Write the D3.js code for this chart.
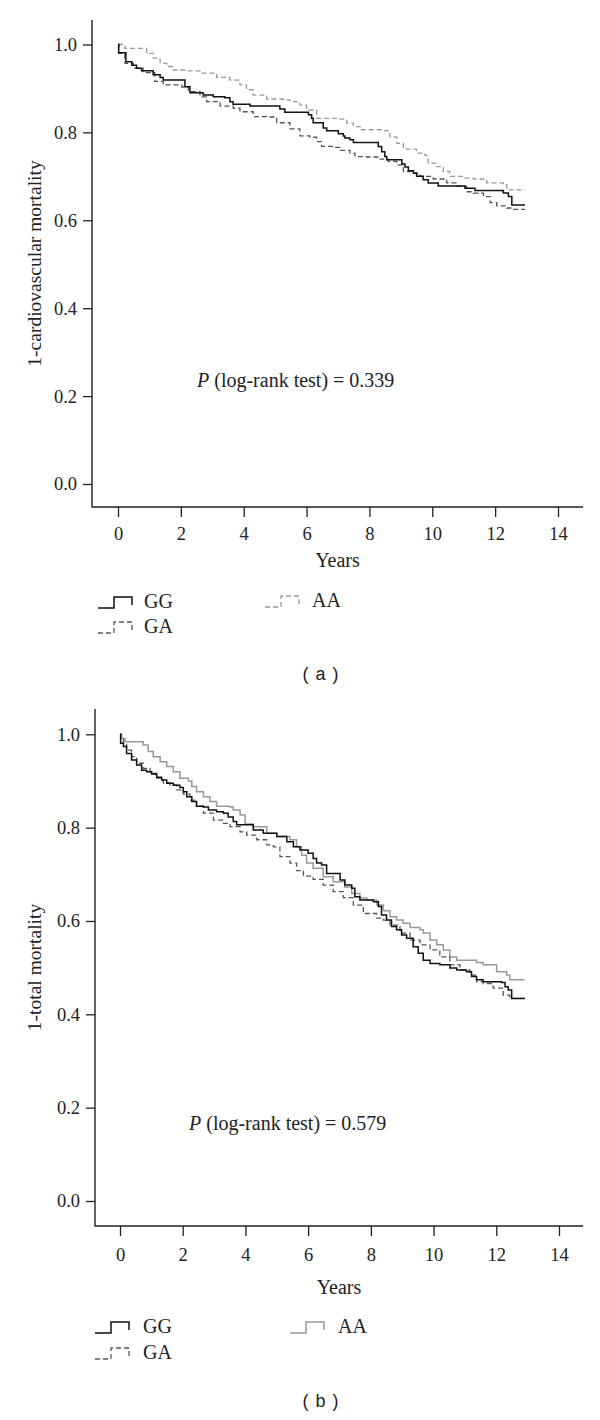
<!DOCTYPE html>
<html>
<head>
<meta charset="utf-8">
<script src="https://cdn.jsdelivr.net/npm/d3@7"></script>
<style>
  body { margin: 0; background: #fff; }
  svg { display: block; }
  .serif { font-family: "Liberation Serif", "DejaVu Serif", serif; }
</style>
</head>
<body>
<div id="chart"></div>
<script>
"use strict"

// tick values shared by both panels
let xTicks = [0, 2, 4, 6, 8, 10, 12, 14];
let yTicks = [0, 0.2, 0.4, 0.6, 0.8, 1.0];
let genotypes = ["GG", "GA", "AA"];

// (a) 1-cardiovascular mortality, [years, survival]
let aGG = [[0,1],[0.02,0.981],[0.25,0.961],[0.44,0.953],[0.59,0.946],[0.75,0.940],[1.12,0.931],[1.34,0.925],[1.44,0.919],[2.13,0.904],[2.29,0.890],[2.71,0.885],[3.03,0.881],[3.40,0.879],[3.56,0.870],[3.66,0.864],[4.2,0.860],[5.15,0.853],[5.31,0.846],[6.06,0.840],[6.16,0.832],[6.21,0.822],[6.53,0.810],[6.64,0.804],[7.01,0.797],[7.17,0.792],[7.22,0.787],[7.38,0.783],[7.49,0.777],[8.28,0.768],[8.39,0.756],[8.49,0.745],[8.55,0.738],[9.03,0.728],[9.13,0.721],[9.24,0.713],[9.40,0.707],[9.50,0.700],[9.71,0.692],[9.87,0.685],[10.19,0.678],[11.04,0.673],[11.36,0.668],[12.26,0.662],[12.42,0.654],[12.53,0.635],[12.95,0.635]];
let aGA = [[0,1],[0.03,0.980],[0.22,0.957],[0.49,0.946],[0.80,0.936],[1.17,0.916],[1.44,0.908],[2.03,0.903],[2.24,0.893],[2.61,0.881],[2.82,0.870],[3.25,0.860],[3.67,0.855],[3.88,0.847],[4.30,0.836],[4.73,0.835],[5.05,0.822],[5.47,0.808],[5.79,0.792],[6.11,0.789],[6.32,0.779],[6.48,0.768],[6.85,0.766],[7.06,0.759],[7.38,0.753],[7.54,0.745],[7.91,0.744],[8.34,0.739],[8.60,0.734],[8.87,0.726],[9.08,0.711],[9.40,0.707],[9.61,0.700],[10.03,0.694],[10.46,0.685],[10.78,0.677],[11.09,0.665],[11.31,0.662],[11.63,0.654],[11.84,0.640],[12.05,0.633],[12.37,0.628],[12.5,0.625],[12.95,0.625]];
let aAA = [[0,1],[0.22,0.991],[0.91,0.980],[1.12,0.969],[1.34,0.957],[1.55,0.950],[1.76,0.942],[2.19,0.940],[2.61,0.935],[3.14,0.925],[3.56,0.919],[3.88,0.908],[4.09,0.897],[4.30,0.885],[4.73,0.876],[5.26,0.874],[5.47,0.870],[5.79,0.862],[6.00,0.851],[6.32,0.832],[7.06,0.830],[7.28,0.821],[7.49,0.813],[7.70,0.806],[8.44,0.804],[8.65,0.790],[8.87,0.775],[9.08,0.762],[9.50,0.753],[9.77,0.747],[9.87,0.730],[10.14,0.722],[10.35,0.711],[10.56,0.700],[10.99,0.696],[11.31,0.694],[11.73,0.685],[12.26,0.681],[12.37,0.669],[12.95,0.669]];

// (b) 1-total mortality
let bGG = [[0,1],[0.02,0.981],[0.11,0.974],[0.21,0.959],[0.37,0.945],[0.53,0.934],[0.69,0.923],[0.85,0.920],[1.01,0.915],[1.17,0.908],[1.33,0.902],[1.49,0.895],[1.70,0.891],[1.91,0.886],[2.02,0.877],[2.13,0.866],[2.29,0.856],[2.44,0.846],[2.66,0.844],[2.82,0.838],[3.08,0.834],[3.30,0.831],[3.45,0.823],[3.61,0.813],[3.72,0.806],[4.25,0.795],[4.57,0.788],[5.00,0.781],[5.32,0.770],[5.53,0.759],[5.74,0.752],[6.00,0.745],[6.16,0.734],[6.27,0.724],[6.43,0.720],[6.59,0.702],[7.02,0.688],[7.17,0.677],[7.39,0.670],[7.49,0.652],[7.65,0.645],[8.08,0.641],[8.24,0.631],[8.34,0.613],[8.50,0.602],[8.66,0.588],[8.82,0.581],[8.98,0.570],[9.14,0.563],[9.35,0.545],[9.51,0.531],[9.67,0.516],[9.89,0.509],[10.20,0.506],[10.52,0.499],[10.74,0.495],[11.05,0.491],[11.21,0.481],[11.37,0.474],[11.58,0.470],[12.17,0.468],[12.28,0.459],[12.38,0.452],[12.49,0.434],[12.91,0.434]];
let bGA = [[0,1],[0.02,0.991],[0.11,0.981],[0.21,0.966],[0.37,0.952],[0.53,0.938],[0.74,0.927],[0.96,0.916],[1.17,0.906],[1.38,0.896],[1.59,0.891],[1.81,0.881],[2.02,0.872],[2.23,0.859],[2.44,0.846],[2.66,0.831],[2.98,0.816],[3.30,0.809],[3.51,0.802],[3.83,0.791],[4.04,0.784],[4.36,0.774],[4.68,0.763],[4.89,0.759],[5.10,0.738],[5.42,0.724],[5.63,0.708],[5.85,0.696],[6.16,0.689],[6.48,0.677],[6.80,0.663],[7.12,0.650],[7.44,0.634],[7.76,0.616],[8.18,0.606],[8.40,0.602],[8.61,0.591],[8.93,0.574],[9.25,0.559],[9.57,0.549],[9.89,0.538],[10.20,0.523],[10.52,0.506],[10.84,0.495],[11.16,0.484],[11.37,0.470],[11.58,0.466],[11.90,0.456],[12.22,0.441],[12.43,0.434],[12.91,0.434]];
let bAA = [[0,1],[0.05,0.991],[0.16,0.984],[0.74,0.977],[0.90,0.963],[1.06,0.952],[1.28,0.941],[1.49,0.931],[1.70,0.920],[1.91,0.906],[2.18,0.900],[2.29,0.888],[2.44,0.877],[2.66,0.866],[2.87,0.856],[3.08,0.846],[3.51,0.844],[3.61,0.838],[3.83,0.827],[3.99,0.808],[4.25,0.802],[4.68,0.788],[5.00,0.781],[5.42,0.774],[5.63,0.759],[5.79,0.741],[5.95,0.724],[6.16,0.713],[6.48,0.695],[6.80,0.684],[7.17,0.673],[7.39,0.659],[7.65,0.649],[7.87,0.645],[8.19,0.634],[8.40,0.622],[8.61,0.609],[8.82,0.602],[9.03,0.595],[9.25,0.586],[9.57,0.581],[9.67,0.574],[9.89,0.559],[10.10,0.549],[10.31,0.538],[10.52,0.523],[10.74,0.516],[11.37,0.511],[11.58,0.506],[12.01,0.491],[12.33,0.484],[12.43,0.474],[12.91,0.474]];

let svg = d3.select("#chart").append("svg")
    .attr("width", 600)
    .attr("height", 1420);

svg.append("rect").attr("width", 600).attr("height", 1420).style("fill", "#fff");

let styles = {
    GG: { color: "#111", dash: null, width: 1.5 },
    GA: { color: "#555", dash: "5,3", width: 1.3 },
    AAdash: { color: "#999", dash: "5,3", width: 1.3 },
    AAsolid: { color: "#999", dash: null, width: 1.5 }
};

drawPanel({
    series: [aGG, aGA, aAA],
    styleKeys: ["GG", "GA", "AAdash"],
    axisX: 92, axisTop: 20, axisBottom: 507, axisRight: 583,
    xRange: [118, 558], yRange: [484, 44.5],
    tickPad: 10,
    yLabel: "1-cardiovascular mortality",
    pText: "(log-rank test) = 0.339", pX: 197, pY: 387,
    yearsY: 567,
    legendY: [608, 633, 607], legendX: [98, 98, 265], legendTextX: [144, 144, 312],
    caption: "( a )", captionY: 680
});

drawPanel({
    series: [bGG, bGA, bAA],
    styleKeys: ["GG", "GA", "AAsolid"],
    axisX: 95, axisTop: 709, axisBottom: 1226, axisRight: 583,
    xRange: [120, 559], yRange: [1201, 734.3],
    tickPad: 12,
    yLabel: "1-total mortality",
    pText: "(log-rank test) = 0.579", pX: 189, pY: 1130,
    yearsY: 1294,
    legendY: [1333, 1359, 1333], legendX: [95, 95, 290], legendTextX: [143, 143, 338],
    caption: "( b )", captionY: 1407
});

function drawPanel(cfg) {
    let x = d3.scaleLinear().domain([0, 14]).range(cfg.xRange);
    let y = d3.scaleLinear().domain([0, 1]).range(cfg.yRange);
    let g = svg.append("g");

    // L-shaped frame
    g.append("path")
        .attr("d", `M${cfg.axisX},${cfg.axisTop}V${cfg.axisBottom}H${cfg.axisRight}`)
        .style("fill", "none")
        .style("stroke", "#222")
        .style("stroke-width", "1.4px");

    let yAxis = g.append("g")
        .attr("transform", `translate(${cfg.axisX},0)`)
        .call(d3.axisLeft(y).tickValues(yTicks).tickFormat(d3.format(".1f")).tickSize(9).tickPadding(6));

    let xAxis = g.append("g")
        .attr("transform", `translate(0,${cfg.axisBottom})`)
        .call(d3.axisBottom(x).tickValues(xTicks).tickSize(10).tickPadding(cfg.tickPad));

    for (let ax of [yAxis, xAxis]) {
        ax.select(".domain").remove();
        ax.selectAll("line").style("stroke", "#222").style("stroke-width", "1.3px");
        ax.selectAll("text").style("font-size", "18.5px").style("fill", "#222")
            .style("font-family", "'Liberation Serif', 'DejaVu Serif', serif");
    }

    let line = d3.line()
        .x(d => x(d[0]))
        .y(d => y(d[1]))
        .curve(d3.curveStepAfter);

    // draw light curves first so GG stays on top
    for (let i = cfg.series.length - 1; i >= 0; i--) {
        let st = styles[cfg.styleKeys[i]];
        g.append("path")
            .datum(cfg.series[i])
            .attr("d", line)
            .style("fill", "none")
            .style("stroke", st.color)
            .style("stroke-width", st.width + "px")
            .style("stroke-dasharray", st.dash);
    }

    // axis title sits at the middle of the frame
    g.append("text")
        .attr("class", "serif")
        .attr("transform", `translate(41,${(cfg.axisTop + cfg.axisBottom) / 2}) rotate(-90)`)
        .style("text-anchor", "middle")
        .style("font-size", "19.5px")
        .style("fill", "#222")
        .text(cfg.yLabel);

    let p = g.append("text")
        .attr("class", "serif")
        .attr("x", cfg.pX)
        .attr("y", cfg.pY)
        .style("font-size", "20px")
        .style("fill", "#222");
    p.append("tspan").style("font-style", "italic").text("P");
    p.append("tspan").text(" " + cfg.pText);

    g.append("text")
        .attr("class", "serif")
        .attr("x", (cfg.axisX + cfg.axisRight) / 2)
        .attr("y", cfg.yearsY)
        .style("text-anchor", "middle")
        .style("font-size", "20px")
        .style("fill", "#222")
        .text("Years");

    drawLegend(g, cfg);

    g.append("text")
        .attr("x", 321)
        .attr("y", cfg.captionY)
        .style("text-anchor", "middle")
        .style("font-family", "'Liberation Sans', Arial, sans-serif")
        .style("font-size", "18px")
        .style("letter-spacing", "1px")
        .style("fill", "#222")
        .text(cfg.caption);
}

function drawLegend(g, cfg) {
    genotypes.forEach((name, i) => {
        let st = styles[cfg.styleKeys[i]];
        let x0 = cfg.legendX[i], yb = cfg.legendY[i];
        g.append("path")
            .attr("d", `M${x0},${yb}H${x0 + 16}V${yb - 11}H${x0 + 34}V${yb - 3}`)
            .style("fill", "none")
            .style("stroke", st.color)
            .style("stroke-width", st.width + "px")
            .style("stroke-dasharray", st.dash);

        g.append("text")
            .attr("class", "serif")
            .attr("x", cfg.legendTextX[i])
            .attr("y", yb)
            .style("font-size", "20px")
            .style("fill", "#222")
            .text(name);
    });
}
</script>
</body>
</html>
